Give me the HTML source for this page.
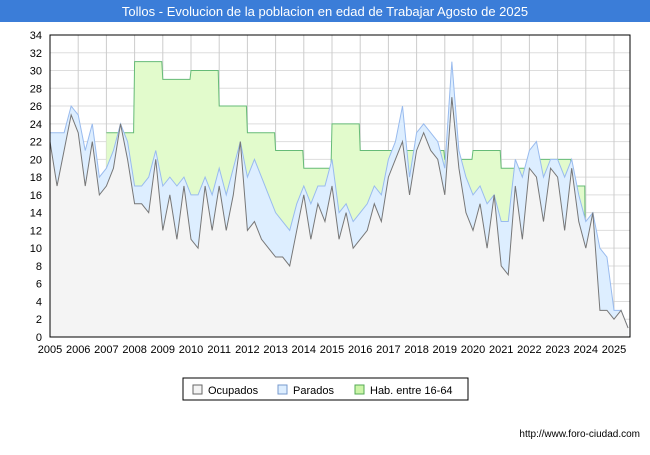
<!DOCTYPE html>
<html><head><meta charset="utf-8"><style>
body{margin:0;width:650px;height:450px;background:#fff;font-family:"Liberation Sans",sans-serif;overflow:hidden}
</style></head><body>
<svg id="c" width="650" height="450">
<rect x="0" y="0" width="650" height="22" fill="#3b7dd8"/>
<text x="325" y="16" text-anchor="middle" fill="#fff" font-size="13">Tollos - Evolucion de la poblacion en edad de Trabajar Agosto de 2025</text>
<g id="grid"></g><g id="marks"></g><g id="axes"></g>
<rect x="183" y="378" width="285" height="22" fill="#fff" stroke="#000"/>
<rect x="193" y="385" width="9" height="9" fill="#f4f4f4" stroke="#666"/>
<text x="208" y="394" font-size="11">Ocupados</text>
<rect x="278" y="385" width="9" height="9" fill="#ddeeff" stroke="#7799cc"/>
<text x="293" y="394" font-size="11">Parados</text>
<rect x="355" y="385" width="9" height="9" fill="#ccf5a8" stroke="#55aa55"/>
<text x="370" y="394" font-size="11">Hab. entre 16-64</text>
<text x="640" y="437" text-anchor="end" font-size="10">http://www.foro-ciudad.com</text>
</svg>
<script>
const years=[2005,2006,2007,2008,2009,2010,2011,2012,2013,2014,2015,2016,2017,2018,2019,2020,2021,2022,2023,2024,2025];
const yTicks=[0,2,4,6,8,10,12,14,16,18,20,22,24,26,28,30,32,34];
const ocupados=[22,17,21,25,23,17,22,16,17,19,24,20,15,15,14,20,12,16,11,17,11,10,17,12,17,12,16,22,12,13,11,10,9,9,8,12,16,11,15,13,17,11,14,10,11,12,15,13,18,20,22,16,21,23,21,20,16,27,19,14,12,15,10,16,8,7,17,11,19,18,13,19,18,12,19,13,10,14,3,3,2,3,1];
const parados=[1,6,2,1,2,4,2,2,2,2,0,2,2,2,4,1,5,2,6,1,5,6,1,4,2,4,3,0,6,7,7,6,5,4,4,3,1,4,2,4,3,3,1,3,3,3,2,3,2,2,4,2,2,1,2,2,3,4,2,4,4,2,5,0,5,6,3,7,2,4,5,1,2,6,1,3,3,0,7,6,1,0,0];
const habYears=[2007,2008,2009,2010,2011,2012,2013,2014,2015,2016,2017,2018,2019,2020,2021,2022,2023,2023.5,2024];
const hab=[23,31,29,30,26,23,21,19,24,21,21,21,20,21,19,20,20,17,0];
const X0=50,X1=630,Y0=337,Y1=35,ns="http://www.w3.org/2000/svg";
const xs=t=>X0+(t-2005)*28.2;
const ys=v=>Y0-(v/34)*(Y0-Y1);
function mk(tag,attrs,parent){const e=document.createElementNS(ns,tag);for(const k in attrs)e.setAttribute(k,attrs[k]);document.getElementById(parent).appendChild(e);return e;}
const bg=mk('rect',{x:X0,y:Y1,width:X1-X0,height:Y0-Y1,fill:'#fff'},'grid');


yTicks.forEach(v=>{const l=mk('line',{x1:X0,x2:X1,y1:ys(v),y2:ys(v),stroke:'#ddd'},'grid');


const t=mk('text',{x:X0-8,y:ys(v)+4,'text-anchor':'end','font-size':11},'axes');t.textContent=v;

});
years.forEach(y=>{const l=mk('line',{x1:xs(y),x2:xs(y),y1:Y1,y2:Y0,stroke:'#ccc'},'grid');


const t=mk('text',{x:xs(y),y:Y0+16,'text-anchor':'middle','font-size':11},'axes');t.textContent=y;

});
const tx=i=>xs(2005+i*0.25);
const last=tx(ocupados.length-1);
let hp=[];habYears.forEach((y,i)=>{const e=i<habYears.length-1?habYears[i+1]:(last-X0)/28.2+2005;hp.push([xs(y),ys(hab[i])],[xs(e)-(i<habYears.length-1?1:0),ys(hab[i])]);});
const hPts=hp.map(p=>p.join(',')).join(' ');
const ha=mk('polygon',{points:`${hp[0][0]},${Y0} ${hPts} ${hp[hp.length-1][0]},${Y0}`,fill:'#e2fbcc'},'marks');


const hl=mk('polyline',{points:hPts,fill:'none',stroke:'#66bb77','stroke-width':1},'marks');


const tot=ocupados.map((o,i)=>o+parados[i]);
const tPts=tot.map((v,i)=>tx(i)+','+ys(v)).join(' ');
const oPts=ocupados.map((v,i)=>tx(i)+','+ys(v)).join(' ');
const pa=mk('polygon',{points:`${X0},${Y0} ${tPts} ${last},${Y0}`,fill:'#ddeeff'},'marks');


const pl=mk('polyline',{points:tPts,fill:'none',stroke:'#99bbee'},'marks');


const oa=mk('polygon',{points:`${X0},${Y0} ${oPts} ${last},${Y0}`,fill:'#f4f4f4'},'marks');


const ol=mk('polyline',{points:oPts,fill:'none',stroke:'#777'},'marks');


const fr=mk('rect',{x:X0,y:Y1,width:X1-X0,height:Y0-Y1,fill:'none',stroke:'#000'},'axes');


</script>
</body></html>
